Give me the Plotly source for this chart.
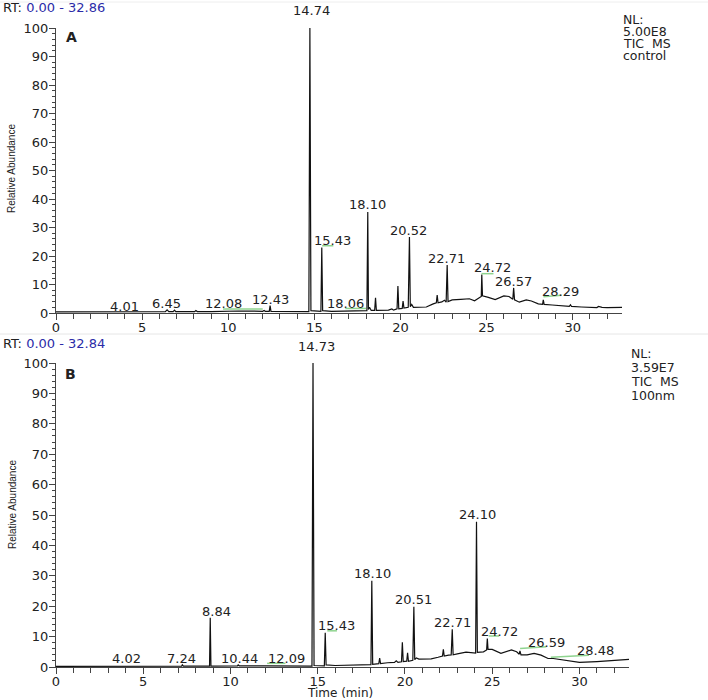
import plotly.graph_objects as go

# ---------------- Panel A : control (NL 5.00E8) ----------------
time_a = [0.0, 3.9, 4.01, 4.1, 6.35, 6.45, 6.55, 6.8, 6.88, 6.95, 8.05, 8.12, 8.2,
          9.0, 10.6, 12.0, 12.08, 12.15, 12.38, 12.43, 12.48, 14.68, 14.74, 14.8,
          15.38, 15.43, 15.48, 16.0, 18.05, 18.10, 18.14, 18.2, 18.3, 18.5, 18.55,
          18.6, 19.3, 19.5, 19.6, 19.8, 19.85, 19.9, 20.1, 20.15, 20.2, 20.45, 20.52,
          20.57, 20.65, 20.75, 21.0, 21.5, 21.9, 22.08, 22.13, 22.18, 22.4, 22.55,
          22.65, 22.71, 22.76, 23.0, 23.5, 24.0, 24.3, 24.6, 24.69, 24.72, 24.76,
          25.1, 25.5, 26.0, 26.3, 26.52, 26.57, 26.62, 26.9, 27.3, 27.6, 28.0, 28.25,
          28.29, 28.34, 28.8, 29.5, 29.8, 29.87, 29.93, 30.5, 31.4, 31.5, 31.7, 32.0,
          32.86]
abund_a = [0.4, 0.4, 0.6, 0.4, 0.5, 1.1, 0.5, 0.5, 1.0, 0.5, 0.5, 0.9, 0.5,
           0.5, 0.7, 0.6, 0.9, 0.6, 0.6, 2.6, 0.6, 0.5, 100.0, 0.8,
           0.6, 23.0, 0.8, 0.6, 0.8, 35.4, 1.2, 2.0, 0.9, 0.9, 5.3,
           0.9, 1.0, 1.4, 1.0, 1.5, 9.5, 1.5, 1.6, 4.2, 1.7, 2.0, 26.7,
           2.2, 3.0, 2.0, 2.0, 2.1, 3.2, 3.6, 6.3, 3.6, 3.9, 4.5,
           3.8, 16.8, 4.0, 4.6, 4.8, 5.0, 4.3, 5.5, 5.8, 13.5, 6.0,
           5.5, 4.7, 6.0, 5.8, 4.8, 8.8, 4.6, 3.8, 4.6, 4.2, 3.2, 3.0,
           4.6, 3.0, 2.8, 2.4, 2.3, 2.9, 2.3, 2.1, 1.9, 2.3, 2.0, 1.9,
           2.0]
labels_a = ["4.01", "6.45", "12.08", "12.43", "14.74", "15.43", "18.06", "18.10",
            "20.52", "22.71", "24.72", "26.57", "28.29"]
label_x_a = [3.95, 6.41, 9.75, 12.44, 14.85, 16.08, 16.8, 18.08, 20.47, 22.67, 25.33, 26.57, 29.3]
label_y_a = [2.2, 3.2, 3.2, 4.6, 106.3, 25.3, 3.4, 37.9, 29.1, 19.0, 15.8, 10.9, 7.4]
# integration baselines (green)
green_a = [([9.7, 12.0], [1.4, 1.4]), ([15.45, 16.1], [23.6, 23.6]),
           ([16.8, 18.0], [1.6, 1.6]), ([24.7, 25.4], [13.8, 13.8]),
           ([28.3, 29.35], [5.7, 6.2])]

# ---------------- Panel B : 100nm (NL 3.59E7) ----------------
time_b = [0.0, 4.02, 7.2, 7.24, 7.3, 8.8, 8.84, 8.88, 10.4, 10.44, 10.5, 12.09, 14.67,
          14.73, 14.79, 15.38, 15.43, 15.48, 16.0, 18.05, 18.10, 18.15, 18.5, 18.55,
          18.6, 19.0, 19.4, 19.5, 19.6, 19.8, 19.85, 19.9, 20.1, 20.15, 20.2, 20.45,
          20.51, 20.56, 20.65, 20.8, 21.5, 21.9, 22.15, 22.2, 22.25, 22.5, 22.65,
          22.71, 22.76, 23.0, 23.5, 24.05, 24.10, 24.15, 24.5, 24.68, 24.72, 24.76,
          25.0, 25.5, 26.1, 26.4, 26.55, 26.59, 26.65, 27.0, 27.4, 27.8, 28.2, 28.5,
          29.0, 29.5, 30.0, 31.0, 32.0, 32.84]
abund_b = [0.2, 0.3, 0.3, 0.7, 0.3, 0.3, 16.2, 0.3, 0.4, 0.7, 0.4, 0.4, 0.3,
           100.0, 0.5, 0.4, 11.3, 0.7, 0.5, 0.8, 28.4, 0.9, 1.1, 2.9,
           1.1, 1.4, 1.5, 2.0, 1.5, 1.7, 8.1, 1.8, 1.9, 4.7, 1.9, 2.2,
           19.8, 2.4, 3.0, 2.6, 2.7, 3.2, 3.6, 5.8, 3.6, 3.9, 4.0,
           12.4, 4.0, 4.3, 4.9, 4.6, 47.8, 4.8, 5.0, 5.6, 9.4, 5.8,
           5.8, 4.5, 5.6, 5.0, 4.2, 5.3, 4.0, 4.0, 4.5, 3.9, 2.8, 2.8,
           2.3, 1.8, 1.5, 1.8, 2.1, 2.5]
labels_b = ["4.02", "7.24", "8.84", "10.44", "12.09", "14.73", "15.43", "18.10",
            "20.51", "22.71", "24.10", "24.72", "26.59", "28.48"]
label_x_b = [4.02, 7.2, 9.18, 10.52, 13.2, 14.95, 16.07, 18.16, 20.5, 22.71, 24.15, 25.39, 28.1, 30.9]
label_y_b = [2.9, 2.9, 18.4, 2.9, 2.9, 105.3, 13.6, 30.8, 22.3, 14.7, 50.3, 11.8, 8.1, 5.4]
green_b = [([12.1, 13.15], [1.2, 1.2]), ([15.55, 16.1], [11.9, 11.9]),
           ([24.8, 25.4], [10.2, 10.2]), ([26.6, 28.1], [6.1, 6.7]),
           ([28.36, 30.55], [3.2, 3.9])]

x_ticks = [0, 5, 10, 15, 20, 25, 30]
y_ticks = [0, 10, 20, 30, 40, 50, 60, 70, 80, 90, 100]

# ---------------- Figure geometry ----------------
W, H = 708, 700
PLOT_L, PLOT_R, PLOT_T, PLOT_B = 56, 629, 28, 667      # screen pixels
ML, MR, MT, MB = PLOT_L, W - PLOT_R, PLOT_T, H - PLOT_B
PW, PH = W - ML - MR, H - MT - MB
A_TOP, A_BOT = 28, 313
B_TOP, B_BOT = 363, 667
A_PX_PER_UNIT = (A_BOT - A_TOP) / 100.0
B_PX_PER_UNIT = (B_BOT - B_TOP) / 100.0


def px(xp):
    return (xp - ML) / PW


def py(yp):
    return (H - MB - yp) / PH


FONT = "DejaVu Sans"
INK = "#222222"
AX = "#444444"
GREEN = "#8fd48f"

fig = go.Figure()
fig.add_trace(go.Scatter(x=time_a, y=abund_a, mode="lines", xaxis="x", yaxis="y",
                         line=dict(color="#111111", width=1.2), hoverinfo="skip"))
fig.add_trace(go.Scatter(x=time_b, y=abund_b, mode="lines", xaxis="x2", yaxis="y2",
                         line=dict(color="#111111", width=1.2), hoverinfo="skip"))
for gx, gy in green_a:
    fig.add_trace(go.Scatter(x=gx, y=gy, mode="lines", xaxis="x", yaxis="y",
                             line=dict(color=GREEN, width=1.5), hoverinfo="skip"))
for gx, gy in green_b:
    fig.add_trace(go.Scatter(x=gx, y=gy, mode="lines", xaxis="x2", yaxis="y2",
                             line=dict(color=GREEN, width=1.5), hoverinfo="skip"))

ann = []


def peak_labels(labels, lxs, lys, xr, yr, ppu):
    for t, lx, ly in zip(labels, lxs, lys):
        shift = 0
        if ly > 100:
            shift = (ly - 100) * ppu
            ly = 100
        ann.append(dict(x=lx, y=ly, xref=xr, yref=yr, text=t, showarrow=False,
                        xanchor="center", yanchor="middle", yshift=shift,
                        font=dict(family=FONT, size=13, color=INK)))


peak_labels(labels_a, label_x_a, label_y_a, "x", "y", A_PX_PER_UNIT)
peak_labels(labels_b, label_x_b, label_y_b, "x2", "y2", B_PX_PER_UNIT)


def txt(text, xp, yp, size=13, xanchor="left", bold=False, angle=0, family=FONT):
    ann.append(dict(x=px(xp), y=py(yp), xref="paper", yref="paper", text=text,
                    showarrow=False, xanchor=xanchor, yanchor="middle", textangle=angle,
                    font=dict(family=family, size=size, color=INK,
                              weight="bold" if bold else "normal")))


txt("RT: <span style='color:#2b2ba8'>0.00 - 32.86</span>", 1, 8)
txt("RT: <span style='color:#2b2ba8'>0.00 - 32.84</span>", 1, 343)
txt("A", 71, 37, size=14, xanchor="center", bold=True)
txt("B", 70, 374, size=14, xanchor="center", bold=True)
for i, line in enumerate(["NL:", "5.00E8", "TIC\u00a0\u00a0MS", "control"]):
    txt(line, 621, 19 + i * 12.2, size=12.5)
for i, line in enumerate(["NL:", "3.59E7", "TIC\u00a0\u00a0MS", "100nm"]):
    txt(line, 629, 353 + i * 14, size=12.5)
txt("Relative Abundance", 12, 169, size=10, xanchor="center", angle=-90, family="Liberation Sans")
txt("Relative Abundance", 12, 505, size=10, xanchor="center", angle=-90, family="Liberation Sans")
txt("Time (min)", 340, 693, size=12, xanchor="center")

xa = dict(showgrid=False, zeroline=False, showline=True, linecolor=AX, linewidth=1,
          ticks="outside", ticklen=6, tickcolor=AX, tickvals=x_ticks, automargin=False,
          ticklabelstandoff=-4,
          tickfont=dict(family=FONT, size=13, color=INK),
          minor=dict(ticks="outside", dtick=1, tick0=0, ticklen=5, tickcolor=AX, showgrid=False))
ya = dict(showgrid=False, zeroline=False, showline=True, linecolor=AX, linewidth=1,
          ticks="outside", ticklen=6, tickcolor=AX, tickvals=y_ticks, range=[0, 100],
          automargin=False, ticklabelstandoff=-2,
          tickfont=dict(family=FONT, size=13, color=INK),
          minor=dict(ticks="outside", dtick=2, tick0=0, ticklen=3, tickcolor=AX, showgrid=False))

fig.update_layout(
    width=W, height=H, showlegend=False,
    margin=dict(l=ML, r=MR, t=MT, b=MB, autoexpand=False),
    paper_bgcolor="white", plot_bgcolor="white",
    xaxis=dict(xa, domain=[0, (622 - PLOT_L) / PW], range=[0, 32.86], anchor="y"),
    yaxis=dict(ya, domain=[py(A_BOT), py(A_TOP)], anchor="x"),
    xaxis2=dict(xa, domain=[0, 1], range=[0, 32.84], anchor="y2"),
    yaxis2=dict(ya, domain=[py(B_BOT), py(B_TOP)], anchor="x2"),
    annotations=ann,
    shapes=[
        dict(type="line", xref="paper", yref="paper", x0=px(0), x1=px(708),
             y0=py(2), y1=py(2), line=dict(color="#eeeeee", width=1)),
        dict(type="line", xref="paper", yref="paper", x0=px(0), x1=px(708),
             y0=py(334), y1=py(334), line=dict(color="#e6e6e6", width=1)),
    ],
)

# remove the browser's default 8 px body margin so the figure sits at the page origin
fig.write_html("out.html", config={"displayModeBar": False},
               post_script="document.body.style.margin='0px';")
